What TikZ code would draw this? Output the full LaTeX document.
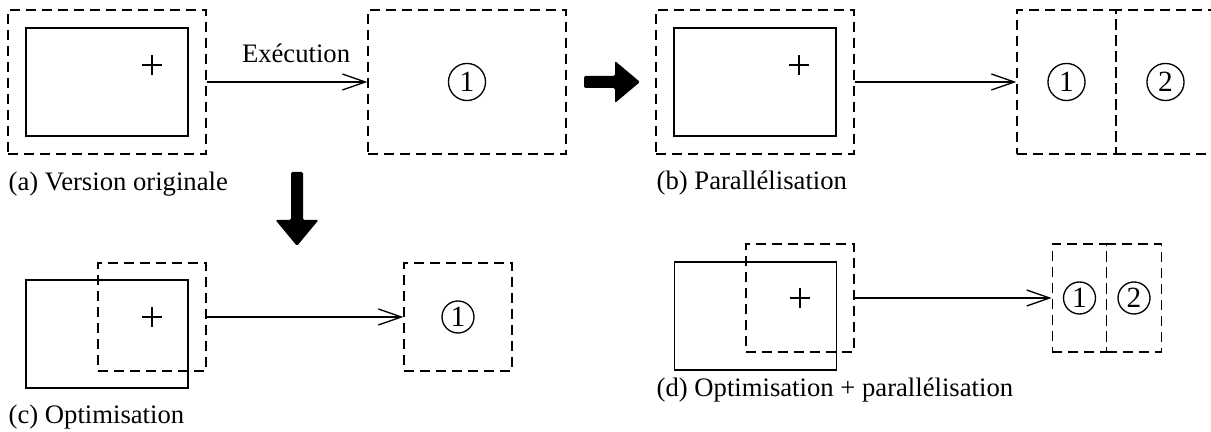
\documentclass[tikz,border=0pt]{standalone}
\usepackage{fontspec}
\setmainfont{Liberation Serif}
\usetikzlibrary{arrows.meta}

\tikzset{
  zonebox/.style={draw, dash pattern=on 3.75pt off 2.25pt, inner sep=0pt},
  prog/.style={draw, inner sep=0pt, minimum width=60.75pt, minimum height=40.5pt},
  task/.style={draw, circle, inner sep=0pt, minimum size=#1, font=\fontsize{11}{11}\selectfont},
  flow/.style={-{Straight Barb[length=8.6pt,width=6pt]}},
  bigarrow/.style={fill=black, rounded corners=0.5pt},
  caption/.style={anchor=base west, inner sep=0pt},
}
\newcommand{\plusmark}[1]{%
  \draw[line width=0.95pt] ([xshift=-3.6pt]#1) -- ([xshift=3.6pt]#1)
    ([yshift=-3.6pt]#1) -- ([yshift=3.6pt]#1);}

\begin{document}
\begin{tikzpicture}[x=0.375pt,y=-0.375pt,line width=0.5pt]
  \useasboundingbox (0,0) rectangle (1211,432);
  \clip (0,0) rectangle (1211,432);

  % (a) version originale
  \node[zonebox,minimum width=74.25pt,minimum height=54pt] (asrc) at (107,82) {};
  \node[prog] (aprog) at (107,82) {};
  \coordinate (aplus) at (152,65);
  \plusmark{aplus}
  \node[zonebox,minimum width=74.25pt,minimum height=54pt] (ares) at (467,82) {};
  \node[task=13.9pt] (atask) at (ares) {1};
  \draw[flow] (asrc) -- node[above=3.6pt,xshift=3.4pt] {Exécution} (ares);
  \node[caption] (acap) at (8,191) {(a) Version originale};

  % (b) parallelisation
  \node[zonebox,minimum width=74.25pt,minimum height=54pt] (bsrc) at (755,82) {};
  \node[prog] (bprog) at (755,82) {};
  \coordinate (bplus) at (799,65);
  \plusmark{bplus}
  \node[zonebox,minimum width=37.125pt,minimum height=54pt] (bres1) at (1066.5,82) {};
  \node[zonebox,minimum width=37.125pt,minimum height=54pt] (bres2) at (1165.5,82) {};
  \node[task=13.9pt] (btask1) at (bres1) {1};
  \node[task=13.9pt] (btask2) at (bres2) {2};
  \draw[flow] (bsrc) -- (bres1);
  \node[caption] (bcap) at (656,190) {(b) Parallélisation};

  % big arrows between the cases
  \fill[bigarrow] (584,76) -- (615,76) -- (615,61) -- (640,82)
    -- (615,103) -- (615,88) -- (584,88) -- cycle;
  \fill[bigarrow] (291,172) -- (303,172) -- (303,220) -- (318.5,220)
    -- (297,246) -- (275.5,220) -- (291,220) -- cycle;

  % (c) optimisation
  \node[prog] (cprog) at (107,334) {};
  \node[zonebox,minimum size=40.5pt] (csrc) at (152,317) {};
  \plusmark{csrc.center}
  \node[zonebox,minimum size=40.5pt] (cres) at (458,317) {};
  \node[task=12pt] (ctask) at (cres) {1};
  \draw[flow] (csrc) -- (cres);
  \node[caption] (ccap) at (8,424) {(c) Optimisation};

  % (d) optimisation + parallelisation
  \node[prog] (dprog) at (755.5,316) {};
  \node[zonebox,minimum size=40.5pt] (dsrc) at (800,298) {};
  \plusmark{dsrc.center}
  \node[zonebox,minimum width=20.4pt,minimum height=40.5pt] (dres1) at (1079.5,298) {};
  \node[zonebox,minimum width=20.4pt,minimum height=40.5pt] (dres2) at (1134,298) {};
  \node[task=12pt] (dtask1) at (dres1) {1};
  \node[task=12pt] (dtask2) at (dres2) {2};
  \draw[flow] (dsrc) -- (dres1);
  \node[caption] (dcap) at (656,397) {(d) Optimisation + parallélisation};
\end{tikzpicture}
\end{document}
